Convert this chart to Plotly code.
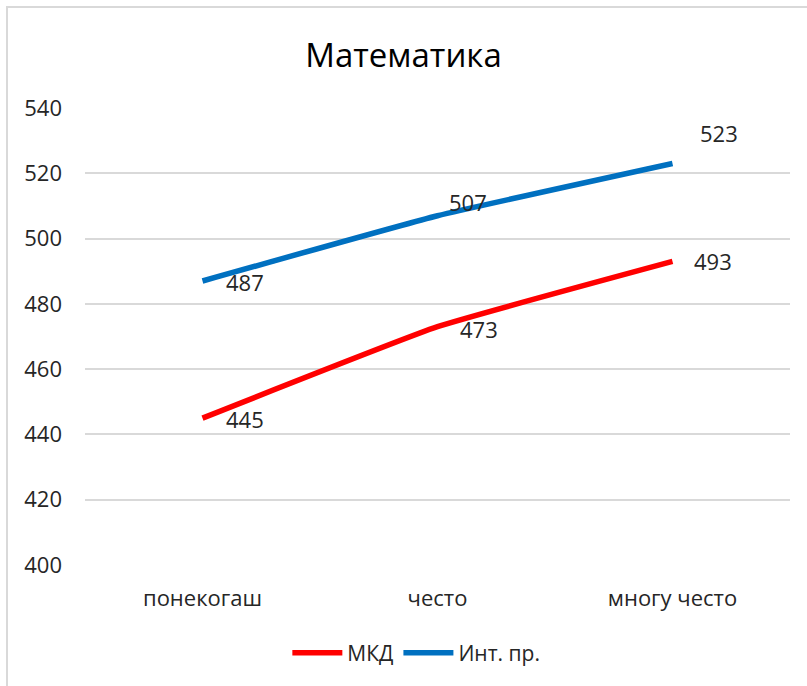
import plotly.graph_objects as go

categories = ["понекогаш", "често", "многу често"]
mkd = [445, 473, 493]
intl = [487, 507, 523]
series_names = ["МКД", "Инт. пр."]
y_ticks = [400, 420, 440, 460, 480, 500, 520, 540]

FONT = "Open Sans, Liberation Sans, sans-serif"
TXT = "#262626"

fig = go.Figure()
fig.add_trace(go.Scatter(x=categories, y=mkd, mode="lines", name=series_names[0],
                         line=dict(color="#FF0000", width=5.5, shape="spline", smoothing=0.35)))
fig.add_trace(go.Scatter(x=categories, y=intl, mode="lines", name=series_names[1],
                         line=dict(color="#0070C0", width=5.5, shape="spline", smoothing=0.35)))

# data labels (offsets in pixels)
mkd_shift = [(42, -1), (41, -2), (40, 0)]
intl_shift = [(42, -1), (30, 14), (46, 30)]
for vals, shifts in ((mkd, mkd_shift), (intl, intl_shift)):
    for c, v, (dx, dy) in zip(categories, vals, shifts):
        fig.add_annotation(x=c, y=v, text=str(v), showarrow=False,
                           xshift=dx, yshift=dy,
                           font=dict(family=FONT, size=22, color=TXT))

fig.add_shape(type="rect", xref="paper", yref="paper",
              x0=(7 - 85) / 705, x1=(830 - 85) / 705,
              y0=(565 - 700) / 457, y1=(565 - 7) / 457,
              line=dict(color="#D9D9D9", width=2), fillcolor="rgba(0,0,0,0)", layer="below")

fig.update_layout(
    width=807, height=686,
    margin=dict(l=85, r=17, t=108, b=121),
    paper_bgcolor="white", plot_bgcolor="white",
    title=dict(text="Математика", x=0.5, xanchor="center", y=1 - 55 / 686, yanchor="middle",
               font=dict(family=FONT, size=33, color="#000000")),
    font=dict(family=FONT, color=TXT),
    showlegend=True,
    legend=dict(orientation="h", x=0.47, xanchor="center", y=(565 - 653) / 457, yanchor="middle",
                font=dict(family=FONT, size=21, color=TXT), itemwidth=50, tracegroupgap=20),
    xaxis=dict(range=[-0.5, 2.5], showgrid=False, showline=False, ticks="",
               tickfont=dict(size=22, color=TXT), ticklabelstandoff=18),
    yaxis=dict(range=[400, 540], tickvals=y_ticks, showgrid=True, gridcolor="#D9D9D9", gridwidth=2,
               zeroline=False, showline=False, ticks="", tickfont=dict(size=22, color=TXT),
               ticklabelstandoff=22),
)

fig.write_html("out.html", config={"displayModeBar": False},
               post_script="document.body.style.margin='0';")
